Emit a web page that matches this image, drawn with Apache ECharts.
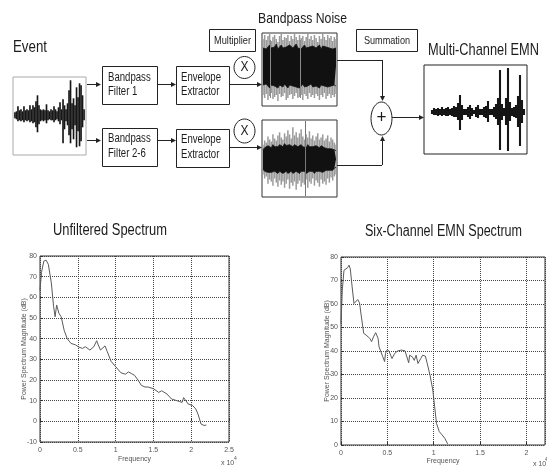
<!DOCTYPE html>
<html>
<head>
<meta charset="utf-8">
<script src="https://cdn.jsdelivr.net/npm/echarts@6/dist/echarts.min.js"></script>
<style>
  html, body { margin: 0; padding: 0; background: #fff; }
  #chart { width: 547px; height: 468px; }
</style>
</head>
<body>
<div id="chart"></div>
<script>
// envelope of the event waveform (upper / lower amplitude)
const eventUpper = [3,4,9,5,6,4,9,5,6,5,10,6,10,8,14,20,10,6,5,6,5,11,5,4,6,5,9,6,4,8,13,6,16,10,6,12,25,35,12,17,10,28,18,32,30,20,6];
const eventLower = [3,4,6,5,6,5,7,5,6,5,7,6,8,7,12,17,9,6,5,6,5,8,5,4,5,5,7,5,4,6,9,5,28,14,6,10,20,28,14,24,10,32,16,31,26,12,5];

// bandpass noise, channel 1 (grey fringe and black core)
const noise1FringeUp = [27,31,26,30,33,25,29,31,27,24,30,32,26,29,28,31,25,30,27,33,29,26,31,28,30,25,29,32,27,30,26,31,28,24,30,27,32,29,26,31,28,30,25,29,27];
const noise1FringeDown = [29,32,28,34,30,27,33,31,29,35,28,31,30,27,34,32,29,28,33,30,27,32,31,29,34,28,30,33,27,31,29,32,28,30,34,29,31,27,33,30,28,32,29,31,28];
const noise1CoreUp = [18,20,17,19,21,18,20,19,22,17,19,21,18,20,19,17,21,20,18,19,22,18,20,17,19,21,18,20,19,17,20,22,18,19,21,17,20,18,19,21,18,20,17,19,18];
const noise1CoreDown = [19,21,18,20,22,19,21,20,18,22,19,20,21,18,20,22,19,21,20,18,21,19,22,20,18,21,19,20,22,18,21,19,20,18,22,19,21,20,18,21,19,20,22,19,20];

// bandpass noise, channels 2-6
const noise2FringeUp = [14,18,16,22,19,17,24,20,18,23,26,21,19,25,22,28,24,20,31,23,26,21,25,29,22,19,24,21,27,20,23,18,22,25,19,21,24,18,20,23,17,21,19,16,14];
const noise2FringeDown = [15,19,17,24,20,22,26,19,23,27,21,25,22,28,24,20,29,23,26,22,30,24,21,27,23,25,20,28,22,24,19,26,21,23,27,20,24,22,25,19,23,18,21,17,15];
const noise2CoreUp = [9,11,10,13,12,11,14,12,13,12,14,13,12,15,13,12,14,13,12,14,13,12,13,14,12,13,11,14,12,13,12,11,13,12,11,13,12,11,12,10,11,10,11,9,8];
const noise2CoreDown = [10,12,11,13,12,13,14,12,13,14,12,13,14,13,12,14,13,12,14,13,12,13,14,12,13,12,14,13,12,13,12,14,12,13,12,11,13,12,11,12,11,10,11,9,8];

// multi-channel EMN output
const emnUpper = [2,4,3,4,3,5,3,4,5,3,4,6,5,9,17,7,3,3,5,7,4,2,5,7,3,3,5,6,11,3,3,5,8,14,42,8,4,14,44,10,4,5,7,16,37,12,3];
const emnLower = [2,3,3,4,3,4,3,4,4,3,4,5,5,8,18,8,3,3,5,7,4,2,5,6,3,3,5,6,10,3,3,5,7,13,38,8,4,13,39,9,4,5,6,15,34,11,3];

// spectra: frequency (x 10^4) and magnitude (dB)
const spec1Freq = [0,0.02,0.05,0.08,0.11,0.15,0.18,0.2,0.22,0.25,0.28,0.32,0.36,0.41,0.47,0.51,0.56,0.6,0.62,0.66,0.71,0.75,0.77,0.8,0.86,0.89,0.94,1.0,1.07,1.13,1.17,1.21,1.25,1.3,1.34,1.39,1.43,1.5,1.57,1.61,1.68,1.74,1.81,1.85,1.88,1.9,1.92,1.96,2.02,2.06,2.09,2.13,2.17,2.2];
const spec1Db = [63.5,72,77.5,78,76,67,55.5,50.6,56.3,52.3,50.6,44,40,37.7,37,36,35.3,36.1,37,34.5,36,39,37,34.5,36.5,33.7,29,26.5,23.5,22.8,23.9,23.1,22.3,19.8,17.4,16.6,16.6,15.8,14,14.8,13.2,10.8,10,9.5,9.2,11.5,12.4,8.4,7.6,6,3.5,-1.3,-2,-1.8];
const spec2Freq = [0,0.014,0.032,0.05,0.072,0.086,0.1,0.12,0.14,0.158,0.18,0.2,0.22,0.245,0.27,0.29,0.31,0.33,0.35,0.374,0.4,0.41,0.43,0.45,0.47,0.48,0.5,0.52,0.55,0.58,0.61,0.65,0.69,0.71,0.73,0.74,0.77,0.79,0.81,0.83,0.86,0.88,0.91,0.93,0.96,0.99,1.01,1.03,1.06,1.09,1.12,1.15];
const spec2Db = [51.7,65.9,74.3,75,75.5,76.5,75,67.3,60.2,60.9,61.9,60.5,54.5,47.5,46.8,47.5,45.4,44,46,47.8,45.4,41.8,41.1,37.6,35.5,39,40.7,39.7,36.8,39,40,40.4,40.1,39.7,35,38.2,37.5,36,38.2,34.7,36.8,38.2,37.8,34.7,29.7,23.4,16.3,9.2,5.7,4.3,2.8,0.5];

const FONT = 'Liberation Sans';
const INK = '#1c1c1c';
const chart = echarts.init(document.getElementById('chart'));

const measure = document.createElement('canvas').getContext('2d');
function fitText(s, x, y, size, width, align) {
  measure.font = size + 'px "' + FONT + '"';
  const sx = width / measure.measureText(s).width;
  return { type: 'text', x: x, y: y, scaleX: sx, z: 50,
    style: { text: s, x: 0, y: 0, fontSize: size, fontFamily: FONT, fill: INK,
      align: align || 'left', verticalAlign: 'middle' } };
}
function boxText(s, x, y) {
  return { type: 'text', x: x, y: y, scaleX: 0.8, z: 50,
    style: { text: s, x: 0, y: 0, fontSize: 12, fontFamily: FONT, fill: INK, verticalAlign: 'middle' } };
}
function rect(x, y, w, h) {
  return { type: 'rect', z: 10, shape: { x: x + 0.5, y: y + 0.5, width: w, height: h },
    style: { fill: '#fff', stroke: '#222', lineWidth: 1 } };
}
function line(x1, y1, x2, y2, color, z) {
  return { type: 'line', z: z || 10, shape: { x1: x1, y1: y1 + 0.5, x2: x2, y2: y2 + 0.5 },
    style: { stroke: color || '#222', lineWidth: 1 } };
}
function vline(x, y1, y2, color, z) {
  return { type: 'line', z: z || 10, shape: { x1: x + 0.5, y1: y1, x2: x + 0.5, y2: y2 },
    style: { stroke: color || '#222', lineWidth: 1 } };
}
function arrow(x1, y1, x2, y2) {
  const dx = x2 - x1, dy = y2 - y1, L = Math.hypot(dx, dy);
  const ux = dx / L, uy = dy / L, hl = 5, hw = 2.5;
  const bx = x2 - ux * hl, by = y2 - uy * hl;
  const off = dy === 0 ? 0.5 : 0, offx = dx === 0 ? 0.5 : 0;
  return [
    { type: 'line', z: 10, shape: { x1: x1 + offx, y1: y1 + off, x2: bx + offx, y2: by + off },
      style: { stroke: '#222', lineWidth: 1 } },
    { type: 'polygon', z: 10, shape: { points: [[x2 + offx, y2 + off],
      [bx - uy * hw + offx, by + ux * hw + off], [bx + uy * hw + offx, by - ux * hw + off]] },
      style: { fill: '#222' } }
  ];
}
function ellipse(cx, cy, rx, ry) {
  return { type: 'ellipse', z: 10, shape: { cx: cx, cy: cy, rx: rx, ry: ry },
    style: { fill: '#fff', stroke: '#222', lineWidth: 1 } };
}

const graphic = [
  fitText('Event', 13, 47.5, 16, 34),
  fitText('Bandpass Noise', 258, 18.5, 15, 89),
  fitText('Multi-Channel EMN', 428, 50, 17, 111),
  fitText('Unfiltered Spectrum', 53, 231, 16, 114),
  fitText('Six-Channel EMN Spectrum', 365, 231.5, 16, 157),
  rect(102, 66, 55, 38), rect(102, 128, 55, 38),
  rect(176, 66, 53, 38), rect(176, 129, 53, 38),
  rect(209, 29, 46, 22), rect(356, 29, 61, 22),
  fitText('Multiplier', 232.5, 40.5, 11, 37, 'center'),
  fitText('Summation', 387, 40.5, 11, 46, 'center'),
  boxText('Bandpass', 108, 77.5), boxText('Filter 1', 108, 91.5),
  boxText('Bandpass', 108, 139), boxText('Filter 2-6', 108, 153.5),
  boxText('Envelope', 181, 77.5), boxText('Extractor', 181, 91.5),
  boxText('Envelope', 181, 140), boxText('Extractor', 181, 155),
  ...arrow(87, 84, 101, 84), ...arrow(87, 140, 101, 140),
  ...arrow(157, 84, 176, 84), ...arrow(157, 140, 176, 140),
  ...arrow(229, 84, 262, 84), ...arrow(229, 147, 262, 147),
  ellipse(244.5, 67.5, 10.5, 11), ellipse(244.5, 131, 10.5, 12),
  fitText('X', 244.5, 67.5, 14, 8, 'center'),
  fitText('X', 244.5, 131, 14, 8, 'center'),
  line(337, 60, 382, 60), ...arrow(382, 60, 382, 101),
  line(337, 165, 382, 165), ...arrow(382, 165, 382, 136),
  ellipse(381.5, 118.5, 10.5, 16.5),
  fitText('+', 381.5, 118, 18, 10, 'center'),
  ...arrow(392, 117, 424, 117),
  vline(270, 40, 98, '#8a8a8a', 100), vline(300, 40, 98, '#8a8a8a', 100),
  vline(305, 121, 196, '#777', 100),
  { type: 'text', z: 50, style: { text: 'x 10', x: 221, y: 463, fontSize: 7, fontFamily: FONT, fill: '#555', verticalAlign: 'middle' } },
  { type: 'text', z: 50, style: { text: '4', x: 234, y: 459, fontSize: 5, fontFamily: FONT, fill: '#555', verticalAlign: 'middle' } },
  { type: 'text', z: 50, style: { text: 'x 10', x: 533, y: 464, fontSize: 7, fontFamily: FONT, fill: '#555', verticalAlign: 'middle' } },
  { type: 'text', z: 50, style: { text: '4', x: 545, y: 460, fontSize: 5, fontFamily: FONT, fill: '#555', verticalAlign: 'middle' } }
];

// grids: 0 event, 1 noise 1, 2 noise 2-6, 3 EMN, 4 spectrum 1, 5 spectrum 2
const grid = [
  { left: 13, top: 77, width: 73, height: 78, show: true, borderColor: '#aaa', borderWidth: 1 },
  { left: 262, top: 33, width: 75, height: 73, show: true, borderColor: '#333', borderWidth: 1 },
  { left: 262, top: 120, width: 75, height: 77, show: true, borderColor: '#333', borderWidth: 1 },
  { left: 424, top: 65, width: 103, height: 89, show: true, borderColor: '#222', borderWidth: 1 },
  { left: 40, top: 256, width: 189, height: 186, show: true, borderColor: '#333', borderWidth: 1 },
  { left: 341, top: 257, width: 204, height: 188, show: true, borderColor: '#333', borderWidth: 1 }
];

const waveX = [[-1.3, 47.3], [-0.6, 44.6], [-0.6, 44.6], [-4, 47.5]];
const waveY = [[-39.7, 38.3], [-40, 33], [-37, 38], [-42, 47]];

const xAxis = waveX.map((r, i) => ({ gridIndex: i, type: 'value', min: r[0], max: r[1], show: false }));
const yAxis = waveY.map((r, i) => ({ gridIndex: i, type: 'value', min: r[0], max: r[1], show: false }));

const tickLabel = { fontSize: 7, color: '#555', fontFamily: FONT };
const dotted = { show: true, lineStyle: { type: 'dotted', color: '#444', width: 1 } };
function specX(gi, max, gap) {
  return { gridIndex: gi, type: 'value', min: 0, max: max, interval: 0.5,
    axisLine: { show: false }, axisTick: { inside: true, length: 3, lineStyle: { color: '#333' } },
    axisLabel: Object.assign({ margin: 5, showMaxLabel: max === 2.5 }, tickLabel),
    splitLine: dotted, name: 'Frequency', nameLocation: 'middle', nameGap: gap,
    nameTextStyle: tickLabel };
}
function specY(gi, min, gap, margin) {
  return { gridIndex: gi, type: 'value', min: min, max: 80, interval: 10,
    axisLine: { show: false }, axisTick: { inside: true, length: 3, lineStyle: { color: '#333' } },
    axisLabel: Object.assign({ margin: margin }, tickLabel),
    splitLine: dotted, name: 'Power Spectrum Magnitude (dB)', nameLocation: 'middle',
    nameRotate: 90, nameGap: gap, nameMoveOverlap: false, nameTextStyle: tickLabel };
}
xAxis.push(specX(4, 2.5, 14), specX(5, 2.2, 13));
yAxis.push(specY(4, -10, 12, 3), specY(5, 0, 10, 3));

// each sample is one vertical stroke from -lower to +upper
function wave(idx, up, down, color, widthFactor) {
  return { type: 'custom', xAxisIndex: idx, yAxisIndex: idx, silent: true,
    encode: { x: 0, y: [1, 2] },
    data: up.map((v, i) => [i, v, -down[i]]),
    renderItem: function (params, api) {
      const top = api.coord([api.value(0), api.value(1)]);
      const bot = api.coord([api.value(0), api.value(2)]);
      const w = api.size([1, 0])[0] * widthFactor;
      return { type: 'rect', shape: { x: top[0] - w / 2, y: top[1], width: w, height: bot[1] - top[1] },
        style: { fill: color } };
    } };
}
// solid filled band (used for the dense black core of the noise)
function band(idx, up, down, color) {
  const base = { type: 'line', xAxisIndex: idx, yAxisIndex: idx, showSymbol: false, silent: true,
    lineStyle: { width: 0.8, color: color }, areaStyle: { color: color, opacity: 1 } };
  return [
    Object.assign({ data: up.map((v, i) => [i, v]) }, base),
    Object.assign({ data: down.map((v, i) => [i, -v]) }, base)
  ];
}
function spectrum(idx, freq, db) {
  return { type: 'line', xAxisIndex: idx, yAxisIndex: idx, showSymbol: false, silent: true,
    data: freq.map((f, i) => [f, db[i]]), lineStyle: { width: 1, color: '#5a5a5a' } };
}

const series = [
  wave(0, eventUpper, eventLower, '#161616', 1.1),
  wave(1, noise1FringeUp, noise1FringeDown, '#9a9a9a', 0.9),
  ...band(1, noise1CoreUp, noise1CoreDown, '#111'),
  wave(2, noise2FringeUp, noise2FringeDown, '#9a9a9a', 0.9),
  ...band(2, noise2CoreUp, noise2CoreDown, '#111'),
  wave(3, emnUpper, emnLower, '#161616', 1.05),
  spectrum(4, spec1Freq, spec1Db),
  spectrum(5, spec2Freq, spec2Db)
];

chart.setOption({
  animation: false,
  backgroundColor: '#fff',
  grid: grid,
  xAxis: xAxis,
  yAxis: yAxis,
  series: series,
  graphic: graphic
});
</script>
</body>
</html>
